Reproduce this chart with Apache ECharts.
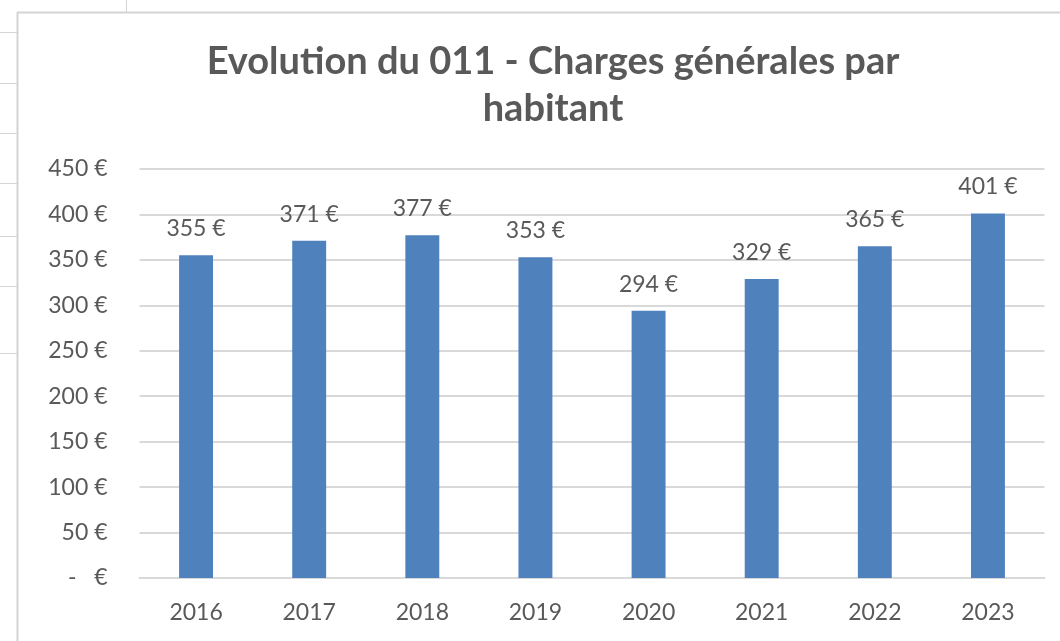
<!DOCTYPE html>
<html>
<head>
<meta charset="utf-8">
<script src="https://cdn.jsdelivr.net/npm/echarts@6/dist/echarts.min.js"></script>
<style>
  html, body { margin: 0; padding: 0; background: #fff; }
  #chart { width: 1060px; height: 641px; }
</style>
</head>
<body>
<div id="chart"></div>
<script>
var years = ['2016', '2017', '2018', '2019', '2020', '2021', '2022', '2023'];
var chargesParHabitant = [355, 371, 377, 353, 294, 329, 365, 401];

var dom = document.getElementById('chart');
var myChart = echarts.init(dom);

var gris = '#595959';
var ligne = '#D9D9D9';

function euro(v) {
    return v === 0 ? '-   €' : v + ' €';
}

option = {
    backgroundColor: '#ffffff',
    textStyle: { fontFamily: 'Lato' },
    title: {
        text: 'Evolution du 011 - Charges générales par\nhabitant',
        left: 548,
        top: 33,
        textAlign: 'center',
        textStyle: {
            fontFamily: 'Lato',
            fontSize: 38,
            fontWeight: 'bold',
            color: gris,
            lineHeight: 47
        }
    },
    graphic: [
        // cadre du graphique et cellules Excel autour
        { type: 'line', shape: { x1: 17.5, y1: 12, x2: 17.5, y2: 641 }, style: { stroke: '#D4D4D4', lineWidth: 2 } },
        { type: 'line', shape: { x1: 17, y1: 12.5, x2: 1060, y2: 12.5 }, style: { stroke: '#D4D4D4', lineWidth: 2 } },
        { type: 'line', shape: { x1: 126.5, y1: 0, x2: 126.5, y2: 12 }, style: { stroke: '#D4D4D4', lineWidth: 1 } },
        { type: 'line', shape: { x1: 0, y1: 32.5, x2: 17, y2: 32.5 }, style: { stroke: '#D4D4D4', lineWidth: 1 } },
        { type: 'line', shape: { x1: 0, y1: 83.5, x2: 17, y2: 83.5 }, style: { stroke: '#D4D4D4', lineWidth: 1 } },
        { type: 'line', shape: { x1: 0, y1: 133.5, x2: 17, y2: 133.5 }, style: { stroke: '#D4D4D4', lineWidth: 1 } },
        { type: 'line', shape: { x1: 0, y1: 183.5, x2: 17, y2: 183.5 }, style: { stroke: '#D4D4D4', lineWidth: 1 } },
        { type: 'line', shape: { x1: 0, y1: 236.5, x2: 17, y2: 236.5 }, style: { stroke: '#D4D4D4', lineWidth: 1 } },
        { type: 'line', shape: { x1: 0, y1: 286.5, x2: 17, y2: 286.5 }, style: { stroke: '#D4D4D4', lineWidth: 1 } },
        { type: 'line', shape: { x1: 0, y1: 353.5, x2: 17, y2: 353.5 }, style: { stroke: '#D4D4D4', lineWidth: 1 } }
    ],
    grid: {
        left: 139.5,
        right: 15.5,
        top: 169,
        bottom: 63
    },
    xAxis: {
        type: 'category',
        data: years,
        axisLine: { lineStyle: { color: ligne, width: 2 } },
        axisTick: { show: false },
        axisLabel: { color: gris, fontSize: 23, margin: 23, fontFamily: 'Lato' }
    },
    yAxis: {
        type: 'value',
        min: 0,
        max: 450,
        interval: 50,
        axisLine: { show: false },
        axisTick: { show: false },
        splitLine: { lineStyle: { color: ligne, width: 2 } },
        axisLabel: {
            color: gris,
            fontSize: 23,
            margin: 32,
            fontFamily: 'Lato',
            formatter: euro
        }
    },
    series: [
        {
            type: 'bar',
            data: chargesParHabitant,
            barWidth: '30%',
            itemStyle: { color: '#4F81BD' },
            label: {
                show: true,
                position: 'top',
                distance: 15,
                color: gris,
                fontSize: 23,
                fontFamily: 'Lato',
                formatter: function (p) { return euro(p.value); }
            }
        }
    ]
};

myChart.setOption(option);
</script>
</body>
</html>
